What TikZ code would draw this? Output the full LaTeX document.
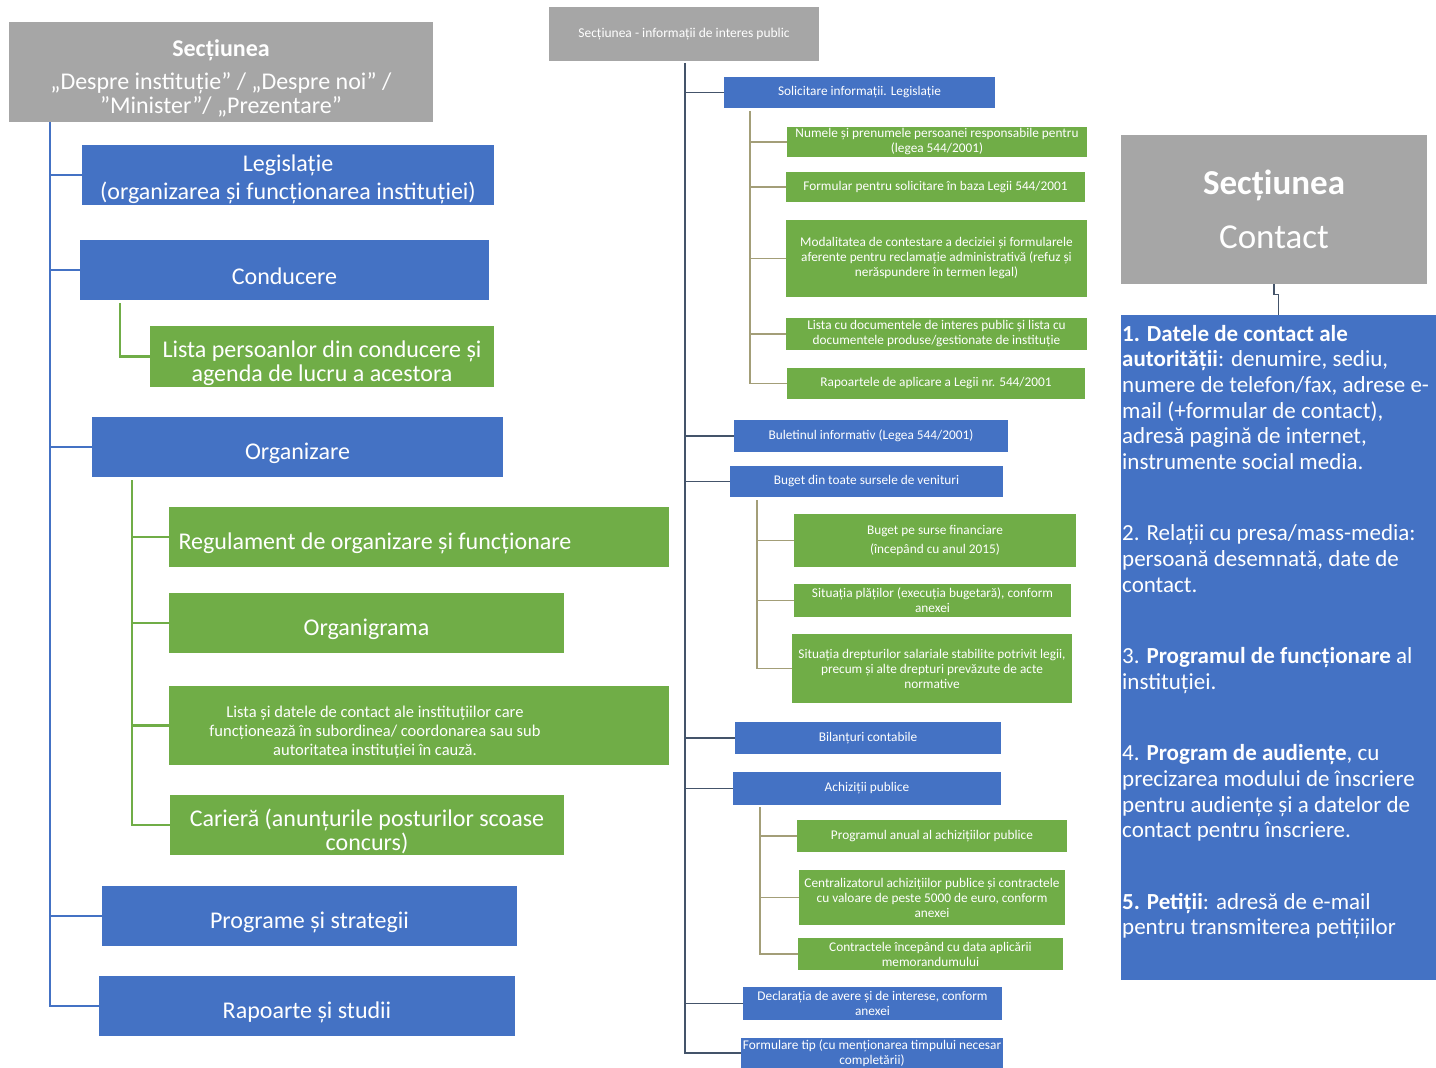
\documentclass[tikz,border=0pt]{standalone}
\usepackage{fontspec}
\setmainfont{Carlito}

\definecolor{ablue}{HTML}{4472C4}
\definecolor{agreen}{HTML}{70AD47}
\definecolor{agray}{HTML}{A6A6A6}
\definecolor{slate}{HTML}{44546A}
\definecolor{olivine}{HTML}{A39E78}

% extra room above the first line, so the text sits a little low
\newcommand\topgap[1][30pt]{\rule{0pt}{#1}}

\tikzset{
  box/.style={inner sep=0pt, align=center, text=white},
  bluebox/.style={box, fill=ablue},
  greenbox/.style={box, fill=agreen},
  graybox/.style={box, fill=agray},
  leftfont/.style={font=\fontsize{24}{24}\selectfont},
  smallfont/.style={font=\fontsize{16.5}{19}\selectfont},
  midfont/.style={font=\fontsize{13.3}{15}\selectfont},
  bluelink/.style={draw=ablue, line width=2.5},
  greenlink/.style={draw=agreen, line width=2.5},
  slatelink/.style={draw=slate, line width=1.6},
  olivelink/.style={draw=olivine, line width=1.6}
}

\begin{document}
\begin{tikzpicture}[x=1pt, y=-1pt]
  \useasboundingbox (0,0) rectangle (1436,1068);

  % Despre institutie
  \node [graybox, leftfont, minimum width=424, minimum height=100] (secL) at (221,72)
        {\topgap\textbf{Secțiunea}\\[9pt]„Despre instituție” / „Despre noi” /\\”Minister”/ „Prezentare”};

  \node [bluebox, leftfont, minimum width=412, minimum height=60] (leg) at (288,175)
        {\topgap[26pt]Legislație\\[4pt](organizarea și funcționarea instituției)};
  \node [bluebox, leftfont, minimum width=409, minimum height=60] (cond) at (284.5,270) {\topgap Conducere};
  \node [greenbox, leftfont, minimum width=344, minimum height=61] (lista) at (322,356.5)
        {\topgap Lista persoanlor din conducere și\\agenda de lucru a acestora};
  \node [bluebox, leftfont, minimum width=411, minimum height=60] (org) at (297.5,447) {\topgap Organizare};
  \node [greenbox, leftfont, minimum width=500, minimum height=60] (reg) at (419,537)
        {\topgap Regulament de organizare și funcționare\hspace*{88pt}};
  \node [greenbox, leftfont, minimum width=395, minimum height=60] (orgr) at (366.5,623) {\topgap Organigrama};
  \node [greenbox, smallfont, minimum width=500, minimum height=79] (subord) at (419,725.5)
        {\parbox{412pt}{\centering\topgap[25pt]Lista și datele de contact ale instituțiilor care\\
         funcționează în subordinea/ coordonarea sau sub\\
         autoritatea instituției în cauză.}\hspace*{88pt}};
  \node [greenbox, leftfont, minimum width=394, minimum height=60] (cariera) at (367,825)
        {\topgap Carieră (anunțurile posturilor scoase\\concurs)};
  \node [bluebox, leftfont, minimum width=415, minimum height=60] (prog) at (309.5,916) {\topgap Programe și strategii};
  \node [bluebox, leftfont, minimum width=416, minimum height=60] (rap) at (307,1006) {\topgap Rapoarte și studii};

  % Left tree
  \draw [bluelink] (secL.south west) ++(41,0) coordinate (tL) |- (rap.west);
  \foreach \n in {leg, cond, org, prog}
    \draw [bluelink] (tL |- \n.west) -- (\n.west);
  \draw [greenlink] (cond.south west) ++(40,3) |- (lista.west);
  \draw [greenlink] (org.south west) ++(40,3) coordinate (tO) |- (cariera.west);
  \foreach \n in {reg, orgr, subord}
    \draw [greenlink] (tO |- \n.west) -- (\n.west);

  % Informatii de interes public
  \node [graybox, draw=gray!70, line width=1.5, font=\fontsize{13.5}{15}\selectfont,
         minimum width=268, minimum height=52] (secM) at (684,34)
        {Secțiunea - informații de interes public};

  \node [bluebox, midfont, minimum width=271, minimum height=31] (sol) at (859.5,92.5)
        {Solicitare informații. Legislație};
  \node [greenbox, midfont, minimum width=300, minimum height=30] (s1) at (937,142)
        {Numele și prenumele persoanei responsabile pentru\\(legea 544/2001)};
  \node [greenbox, midfont, minimum width=299, minimum height=30] (s2) at (935.5,187)
        {Formular pentru solicitare în baza Legii 544/2001};
  \node [greenbox, midfont, minimum width=301, minimum height=77] (s3) at (936.5,258.5)
        {Modalitatea de contestare a deciziei și formularele\\aferente pentru reclamație administrativă (refuz și\\nerăspundere în termen legal)};
  \node [greenbox, midfont, minimum width=301, minimum height=32] (s4) at (936.5,334)
        {Lista cu documentele de interes public și lista cu\\documentele produse/gestionate de instituție};
  \node [greenbox, midfont, minimum width=298, minimum height=31] (s5) at (936,383.5)
        {Rapoartele de aplicare a Legii nr. 544/2001};

  \node [bluebox, midfont, minimum width=274, minimum height=32] (bul) at (871,436)
        {Buletinul informativ (Legea 544/2001)};
  \node [bluebox, midfont, minimum width=273, minimum height=31] (bug) at (866.5,481.5)
        {Buget din toate sursele de venituri};
  \node [greenbox, midfont, minimum width=282, minimum height=53] (b1) at (935,540.5)
        {Buget pe surse financiare\\[4pt](începând cu anul 2015)};
  \node [greenbox, midfont, minimum width=277, minimum height=33] (b2) at (932.5,600.5)
        {Situația plăților (execuția bugetară), conform\\anexei};
  \node [greenbox, midfont, minimum width=280, minimum height=69] (b3) at (932,668.5)
        {Situația drepturilor salariale stabilite potrivit legii,\\precum și alte drepturi prevăzute de acte\\normative};

  \node [bluebox, midfont, minimum width=266, minimum height=32] (bil) at (868,738) {Bilanțuri contabile};
  \node [bluebox, midfont, minimum width=268, minimum height=33] (ach) at (867,788.5) {Achiziții publice};
  \node [greenbox, midfont, minimum width=270, minimum height=32] (a1) at (932,836)
        {Programul anual al achizițiilor publice};
  \node [greenbox, midfont, minimum width=266, minimum height=55] (a2) at (932,897.5)
        {Centralizatorul achizițiilor publice și contractele\\cu valoare de peste 5000 de euro, conform\\anexei};
  \node [greenbox, midfont, minimum width=265, minimum height=32] (a3) at (930.5,954)
        {Contractele începând cu data aplicării\\memorandumului};

  \node [bluebox, midfont, minimum width=259, minimum height=33] (dec) at (872.5,1003.5)
        {Declarația de avere și de interese, conform\\anexei};
  \node [bluebox, midfont, minimum width=262, minimum height=30] (form) at (872,1053)
        {Formulare tip (cu menționarea timpului necesar\\completării)};

  % Middle tree
  \draw [slatelink] (secM.south) ++(1,2) coordinate (tM) |- (form.west);
  \foreach \n in {sol, bul, bug, bil, ach, dec}
    \draw [slatelink] (tM |- \n.west) -- (\n.west);
  \draw [olivelink] (sol.south west) ++(26,3) coordinate (tS) |- (s5.west);
  \foreach \n in {s1, s2, s3, s4}
    \draw [olivelink] (tS |- \n.west) -- (\n.west);
  \draw [olivelink] (bug.south west) ++(27,3) coordinate (tB) |- (b3.west);
  \foreach \n in {b1, b2}
    \draw [olivelink] (tB |- \n.west) -- (\n.west);
  \draw [olivelink] (ach.south west) ++(27,2) coordinate (tA) |- (a3.west);
  \foreach \n in {a1, a2}
    \draw [olivelink] (tA |- \n.west) -- (\n.west);

  % Contact
  \node [graybox, font=\fontsize{35}{40}\selectfont, minimum width=306, minimum height=149] (secC) at (1274,209.5)
        {\textbf{Secțiunea}\\[14pt]Contact};
  \node [fill=ablue, inner sep=0pt, minimum width=315, minimum height=665] (cont) at (1278.5,647.5) {};
  \node [anchor=north west, inner sep=0pt, align=left, text=white,
         font=\fontsize{23}{25.6}\selectfont] (contTxt) at (1122,325)
        {\textbf{1. Datele de contact ale}\\
         \textbf{autorității}: denumire, sediu,\\
         numere de telefon/fax, adrese e-\\
         mail (+formular de contact),\\
         adresă pagină de internet,\\
         instrumente social media.\\[46pt]
         2. Relații cu presa/mass-media:\\
         persoană desemnată, date de\\
         contact.\\[46pt]
         3. \textbf{Programul de funcționare} al\\
         instituției.\\[46pt]
         4. \textbf{Program de audiențe}, cu\\
         precizarea modului de înscriere\\
         pentru audiențe și a datelor de\\
         contact pentru înscriere.\\[46pt]
         \textbf{5. Petiții}: adresă de e-mail\\
         pentru transmiterea petițiilor};

  \draw [slatelink, line width=1.2] (secC.south) -- ++(0,10) -| (cont.north);
\end{tikzpicture}
\end{document}
